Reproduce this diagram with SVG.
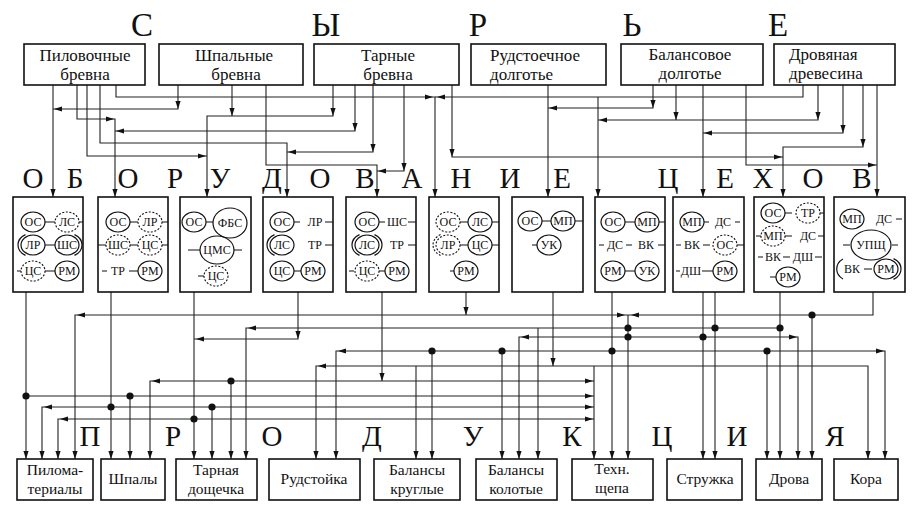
<svg xmlns="http://www.w3.org/2000/svg" width="917" height="510" viewBox="0 0 917 510">
<style>
.b{fill:#fff;stroke:#111;stroke-width:1.6}
.c path{fill:none;stroke:#222;stroke-width:1.1}
text{font-family:"Liberation Serif","DejaVu Serif",serif;fill:#111}
.big{font-size:33px;text-anchor:middle}
.mid{font-size:29px;text-anchor:middle}
.t{font-size:17px}
.p{font-size:15.5px;text-anchor:middle}
.e{font-size:12px;text-anchor:middle}
.s{fill:none;stroke:#111;stroke-width:1.2}
.d{fill:none;stroke:#111;stroke-width:1.1;stroke-dasharray:2 1.6}
.l{fill:none;stroke:#111;stroke-width:1.1}
.dot{fill:#111}
</style>
<defs><path id="a" d="M0 0L-8 -2.6L-8 2.6Z" fill="#111"/></defs>
<rect width="917" height="510" fill="#fff"/>

<text class="big" x="142 326 478 632 778" y="36">СЫРЬЕ</text>
<text class="mid" x="33 75 128 175 220 272 320 365 412 461 510 562" y="188">ОБОРУДОВАНИЕ</text>
<text class="mid" x="668 725 763 813 862" y="188">ЦЕХОВ</text>
<text class="mid" x="90 173 272 372 473 572 662 737 835" y="446">ПРОДУКЦИЯ</text>

<g id="connectors" class="c">
<path d="M53 85V197"/>
<path d="M178 85V109H53"/>
<path d="M77 85V119H115V197"/>
<path d="M355 85V131H115"/>
<path d="M87 85V156H207"/>
<path d="M333 85V116H207V197"/>
<path d="M232 85V116"/>
<path d="M100 85V143H287V197"/>
<path d="M373 85V152H287"/>
<path d="M266 85V165H377V197"/>
<path d="M404 85V171H377"/>
<path d="M116 85V97H435V197"/>
<path d="M803 85V97H435"/>
<path d="M452 85V157H783"/>
<path d="M863 85V147H783V197"/>
<path d="M548 85V197"/>
<path d="M653 85V108H548"/>
<path d="M598 97V197"/>
<path d="M818 85V120H598"/>
<path d="M676 85V120"/>
<path d="M703 85V197"/>
<path d="M843 85V133H703"/>
<path d="M746 85V165H877"/>
<path d="M877 85V197"/>

<path d="M26 292V459"/>
<path d="M26 396H594"/>
<path d="M111 292V459"/>
<path d="M594 407H42V459"/>
<path d="M194 292V459"/>
<path d="M594 419H58V459"/>
<path d="M298 292V339H194"/>
<path d="M382 292V381"/>
<path d="M594 381H150V459"/>
<path d="M231 381V459"/>
<path d="M130 396V459"/>
<path d="M212 407V459"/>
<path d="M466 292V315"/>
<path d="M873 292V315H75V459"/>
<path d="M628 315V459"/>
<path d="M812 315V459"/>
<path d="M780 292V459"/>
<path d="M780 328H246V459"/>
<path d="M538 328V459"/>
<path d="M715 292V459"/>
<path d="M703 292V459"/>
<path d="M519 459V337H798V459"/>
<path d="M612 292V459"/>
<path d="M336 459V351H885V459"/>
<path d="M432 351V459"/>
<path d="M502 351V459"/>
<path d="M767 351V459"/>
<path d="M553 292V366"/>
<path d="M316 459V366H868V459"/>
<path d="M416 366V459"/>
<path d="M594 366V459"/>

<g class="dot">
<circle cx="26" cy="396" r="3.6"/><circle cx="130" cy="396" r="3.6"/>
<circle cx="111" cy="407" r="3.6"/><circle cx="212" cy="407" r="3.6"/>
<circle cx="194" cy="419" r="3.6"/><circle cx="231" cy="381" r="3.6"/>
<circle cx="432" cy="351" r="3.6"/><circle cx="502" cy="351" r="3.6"/>
<circle cx="612" cy="351" r="3.6"/><circle cx="767" cy="351" r="3.6"/>
<circle cx="628" cy="328" r="3.6"/><circle cx="715" cy="328" r="3.6"/>
<circle cx="780" cy="328" r="3.6"/><circle cx="628" cy="337" r="3.6"/>
<circle cx="703" cy="337" r="3.6"/><circle cx="812" cy="315" r="3.6"/>
</g>

<use href="#a" transform="translate(53 197) rotate(90)"/>
<use href="#a" transform="translate(115 197) rotate(90)"/>
<use href="#a" transform="translate(207 197) rotate(90)"/>
<use href="#a" transform="translate(287 197) rotate(90)"/>
<use href="#a" transform="translate(377 197) rotate(90)"/>
<use href="#a" transform="translate(435 197) rotate(90)"/>
<use href="#a" transform="translate(548 197) rotate(90)"/>
<use href="#a" transform="translate(598 197) rotate(90)"/>
<use href="#a" transform="translate(703 197) rotate(90)"/>
<use href="#a" transform="translate(783 197) rotate(90)"/>
<use href="#a" transform="translate(877 197) rotate(90)"/>
<use href="#a" transform="translate(178 109) rotate(90)"/>
<use href="#a" transform="translate(355 131) rotate(90)"/>
<use href="#a" transform="translate(333 116) rotate(90)"/>
<use href="#a" transform="translate(232 116) rotate(90)"/>
<use href="#a" transform="translate(373 152) rotate(90)"/>
<use href="#a" transform="translate(404 171) rotate(90)"/>
<use href="#a" transform="translate(452 157) rotate(90)"/>
<use href="#a" transform="translate(863 147) rotate(90)"/>
<use href="#a" transform="translate(653 108) rotate(90)"/>
<use href="#a" transform="translate(818 120) rotate(90)"/>
<use href="#a" transform="translate(676 120) rotate(90)"/>
<use href="#a" transform="translate(843 133) rotate(90)"/>
<use href="#a" transform="translate(54 109) rotate(180)"/>
<use href="#a" transform="translate(116 131) rotate(180)"/>
<use href="#a" transform="translate(288 152) rotate(180)"/>
<use href="#a" transform="translate(378 171) rotate(180)"/>
<use href="#a" transform="translate(549 108) rotate(180)"/>
<use href="#a" transform="translate(599 120) rotate(180)"/>
<use href="#a" transform="translate(704 133) rotate(180)"/>
<use href="#a" transform="translate(437 97) rotate(180)"/>
<use href="#a" transform="translate(114 119)"/>
<use href="#a" transform="translate(206 156)"/>
<use href="#a" transform="translate(433 97)"/>
<use href="#a" transform="translate(782 157)"/>
<use href="#a" transform="translate(876 165)"/>

<use href="#a" transform="translate(26 459) rotate(90)"/>
<use href="#a" transform="translate(42 459) rotate(90)"/>
<use href="#a" transform="translate(58 459) rotate(90)"/>
<use href="#a" transform="translate(75 459) rotate(90)"/>
<use href="#a" transform="translate(111 459) rotate(90)"/>
<use href="#a" transform="translate(130 459) rotate(90)"/>
<use href="#a" transform="translate(150 459) rotate(90)"/>
<use href="#a" transform="translate(194 459) rotate(90)"/>
<use href="#a" transform="translate(212 459) rotate(90)"/>
<use href="#a" transform="translate(231 459) rotate(90)"/>
<use href="#a" transform="translate(246 459) rotate(90)"/>
<use href="#a" transform="translate(316 459) rotate(90)"/>
<use href="#a" transform="translate(336 459) rotate(90)"/>
<use href="#a" transform="translate(416 459) rotate(90)"/>
<use href="#a" transform="translate(432 459) rotate(90)"/>
<use href="#a" transform="translate(502 459) rotate(90)"/>
<use href="#a" transform="translate(519 459) rotate(90)"/>
<use href="#a" transform="translate(538 459) rotate(90)"/>
<use href="#a" transform="translate(594 459) rotate(90)"/>
<use href="#a" transform="translate(612 459) rotate(90)"/>
<use href="#a" transform="translate(628 459) rotate(90)"/>
<use href="#a" transform="translate(703 459) rotate(90)"/>
<use href="#a" transform="translate(715 459) rotate(90)"/>
<use href="#a" transform="translate(767 459) rotate(90)"/>
<use href="#a" transform="translate(780 459) rotate(90)"/>
<use href="#a" transform="translate(798 459) rotate(90)"/>
<use href="#a" transform="translate(812 459) rotate(90)"/>
<use href="#a" transform="translate(868 459) rotate(90)"/>
<use href="#a" transform="translate(885 459) rotate(90)"/>
<use href="#a" transform="translate(382 381) rotate(90)"/>
<use href="#a" transform="translate(298 339) rotate(90)"/>
<use href="#a" transform="translate(466 315) rotate(90)"/>
<use href="#a" transform="translate(553 366) rotate(90)"/>
<use href="#a" transform="translate(44 407) rotate(180)"/>
<use href="#a" transform="translate(60 419) rotate(180)"/>
<use href="#a" transform="translate(152 381) rotate(180)"/>
<use href="#a" transform="translate(196 339) rotate(180)"/>
<use href="#a" transform="translate(77 315) rotate(180)"/>
<use href="#a" transform="translate(248 328) rotate(180)"/>
<use href="#a" transform="translate(521 337) rotate(180)"/>
<use href="#a" transform="translate(338 351) rotate(180)"/>
<use href="#a" transform="translate(318 366) rotate(180)"/>
<use href="#a" transform="translate(631 315) rotate(180)"/>
<use href="#a" transform="translate(625 315)"/>
<use href="#a" transform="translate(593 381)"/>
<use href="#a" transform="translate(593 396)"/>
<use href="#a" transform="translate(593 407)"/>
<use href="#a" transform="translate(593 419)"/>
<use href="#a" transform="translate(797 337)"/>
<use href="#a" transform="translate(884 351)"/>
</g>

<g id="raw1"><rect class="b" x="24" y="44" width="121" height="41"/><text class="t" x="85" y="61" text-anchor="middle">Пиловочные</text><text class="t" x="85" y="80" text-anchor="middle">бревна</text></g>
<g id="raw2"><rect class="b" x="159" y="44" width="144" height="41"/><text class="t" x="234" y="61" text-anchor="middle">Шпальные</text><text class="t" x="236" y="80" text-anchor="middle">бревна</text></g>
<g id="raw3"><rect class="b" x="314" y="44" width="145" height="41"/><text class="t" x="388" y="61" text-anchor="middle">Тарные</text><text class="t" x="388" y="80" text-anchor="middle">бревна</text></g>
<g id="raw4"><rect class="b" x="471" y="44" width="135" height="41"/><text class="t" x="490" y="61">Рудстоечное</text><text class="t" x="490" y="80">долготье</text></g>
<g id="raw5"><rect class="b" x="621" y="44" width="142" height="41"/><text class="t" x="690" y="60" text-anchor="middle">Балансовое</text><text class="t" x="690" y="79" text-anchor="middle">долготье</text></g>
<g id="raw6"><rect class="b" x="774" y="44" width="121" height="41"/><text class="t" x="789" y="60">Дровяная</text><text class="t" x="789" y="79">древесина</text></g>

<g id="eq1" transform="translate(13 197)"><rect class="b" width="70" height="95"/>
<ellipse class="s" cx="20" cy="25" rx="12" ry="10"/><text class="e" x="20" y="29">ОС</text>
<path class="l" d="M32 25H42M66 25H70M32 48H42M4 74H8M32 74H42"/>
<ellipse class="d" cx="54" cy="25" rx="12" ry="10"/><text class="e" x="54" y="29">ЛС</text>
<ellipse class="s" cx="20" cy="48" rx="12" ry="10"/><path class="s" d="M12.5 37.6A15 12 0 0 0 12.5 58.4"/><text class="e" x="20" y="52">ЛР</text>
<ellipse class="s" cx="54" cy="48" rx="12" ry="10"/><path class="s" d="M61.5 37.6A15 12 0 0 1 61.5 58.4"/><text class="e" x="54" y="52">ШС</text>
<ellipse class="d" cx="20" cy="74" rx="12" ry="10"/><text class="e" x="20" y="78">ЦС</text>
<ellipse class="s" cx="54" cy="74" rx="12" ry="10"/><text class="e" x="54" y="78">РМ</text>
</g>
<g id="eq2" transform="translate(98 197)"><rect class="b" width="70" height="95"/>
<path class="l" d="M32 25H40M64 25H70M0 48H8M32 48H40M64 48H70M4 74H9M31 74H40"/>
<ellipse class="s" cx="20" cy="25" rx="12" ry="10"/><text class="e" x="20" y="29">ОС</text>
<ellipse class="d" cx="52" cy="25" rx="12" ry="10"/><text class="e" x="52" y="29">ЛР</text>
<ellipse class="d" cx="20" cy="48" rx="12" ry="10"/><text class="e" x="20" y="52">ШС</text>
<ellipse class="d" cx="52" cy="48" rx="12" ry="10"/><text class="e" x="52" y="52">ЦС</text>
<text class="e" x="20" y="78">ТР</text>
<ellipse class="s" cx="52" cy="74" rx="12" ry="10"/><text class="e" x="52" y="78">РМ</text>
</g>
<g id="eq3" transform="translate(180 197)"><rect class="b" width="71" height="95"/>
<path class="l" d="M26 25H33M8 53H20M54 53H62M18 79H24"/>
<ellipse class="s" cx="14" cy="25" rx="12" ry="10"/><text class="e" x="14" y="29">ОС</text>
<ellipse class="s" cx="50" cy="26" rx="17" ry="15"/><text class="e" x="50" y="30">ФБС</text>
<ellipse class="s" cx="37" cy="53" rx="17" ry="14"/><text class="e" x="37" y="57">ЦМС</text>
<ellipse class="d" cx="36" cy="79" rx="12" ry="10"/><text class="e" x="36" y="83">ЦС</text>
</g>
<g id="eq4" transform="translate(263 197)"><rect class="b" width="70" height="95"/>
<path class="l" d="M31 25H37M62 25H70M62 48H70M31 74H38"/>
<ellipse class="s" cx="19" cy="25" rx="12" ry="10"/><text class="e" x="19" y="29">ОС</text>
<text class="e" x="52" y="29">ЛР</text>
<ellipse class="s" cx="19" cy="48" rx="12" ry="10"/><path class="s" d="M11.5 37.6A15 12 0 0 0 11.5 58.4"/><text class="e" x="19" y="52">ЛС</text>
<text class="e" x="52" y="52">ТР</text>
<ellipse class="s" cx="19" cy="74" rx="12" ry="10"/><text class="e" x="19" y="78">ЦС</text>
<ellipse class="s" cx="50" cy="74" rx="12" ry="10"/><text class="e" x="50" y="78">РМ</text>
</g>
<g id="eq5" transform="translate(346 197)"><rect class="b" width="70" height="95"/>
<path class="l" d="M33 25H39M62 25H70M62 48H70M3 74H8M33 74H39"/>
<ellipse class="s" cx="21" cy="25" rx="12" ry="10"/><text class="e" x="21" y="29">ОС</text>
<text class="e" x="51" y="29">ШС</text>
<ellipse class="s" cx="21" cy="48" rx="12" ry="10"/><path class="s" d="M13.5 37.6A15 12 0 0 0 13.5 58.4M28.5 37.6A15 12 0 0 1 28.5 58.4"/><text class="e" x="21" y="52">ЛС</text>
<text class="e" x="51" y="52">ТР</text>
<ellipse class="d" cx="21" cy="74" rx="12" ry="10"/><text class="e" x="21" y="78">ЦС</text>
<ellipse class="s" cx="51" cy="74" rx="12" ry="10"/><text class="e" x="51" y="78">РМ</text>
</g>
<g id="eq6" transform="translate(429 197)"><rect class="b" width="70" height="95"/>
<path class="l" d="M31 25H39M63 25H70M31 48H39M63 48H70M21 74H25"/>
<ellipse class="d" cx="19" cy="25" rx="12" ry="10"/><text class="e" x="19" y="29">ОС</text>
<ellipse class="s" cx="51" cy="25" rx="12" ry="10"/><text class="e" x="51" y="29">ЛС</text>
<ellipse class="d" cx="19" cy="48" rx="12" ry="10"/><path class="d" d="M11.5 37.6A15 12 0 0 0 11.5 58.4"/><text class="e" x="19" y="52">ЛР</text>
<ellipse class="s" cx="51" cy="48" rx="12" ry="10"/><text class="e" x="51" y="52">ЦС</text>
<ellipse class="s" cx="37" cy="74" rx="12" ry="10"/><text class="e" x="37" y="78">РМ</text>
</g>
<g id="eq7" transform="translate(512 197)"><rect class="b" width="71" height="95"/>
<path class="l" d="M30 24H39M63 24H71M20 48H25"/>
<ellipse class="s" cx="18" cy="24" rx="12" ry="10"/><text class="e" x="18" y="28">ОС</text>
<ellipse class="s" cx="51" cy="24" rx="12" ry="10"/><text class="e" x="51" y="28">МП</text>
<ellipse class="s" cx="37" cy="48" rx="12" ry="10"/><text class="e" x="37" y="52">УК</text>
</g>
<g id="eq8" transform="translate(595 197)"><rect class="b" width="70" height="95"/>
<path class="l" d="M30 25H40M64 25H70M4 48H9M31 48H37M63 48H70M30 74H40"/>
<ellipse class="s" cx="18" cy="25" rx="12" ry="10"/><text class="e" x="18" y="29">ОС</text>
<ellipse class="s" cx="52" cy="25" rx="12" ry="10"/><text class="e" x="52" y="29">МП</text>
<text class="e" x="20" y="52">ДС</text><text class="e" x="51" y="52">ВК</text>
<ellipse class="s" cx="18" cy="74" rx="12" ry="10"/><text class="e" x="18" y="78">РМ</text>
<ellipse class="s" cx="52" cy="74" rx="12" ry="10"/><text class="e" x="52" y="78">УК</text>
</g>
<g id="eq9" transform="translate(673 197)"><rect class="b" width="71" height="95"/>
<path class="l" d="M31 25H36M62 25H67M3 48H8M30 48H37M64 48H71M3 74H7M29 74H40"/>
<ellipse class="s" cx="19" cy="25" rx="12" ry="10"/><text class="e" x="19" y="29">МП</text>
<text class="e" x="50" y="29">ДС</text>
<text class="e" x="19" y="52">ВК</text>
<ellipse class="d" cx="52" cy="48" rx="12" ry="10"/><text class="e" x="52" y="52">ОС</text>
<text class="e" x="18" y="78">ДШ</text>
<ellipse class="s" cx="52" cy="74" rx="12" ry="10"/><text class="e" x="52" y="78">РМ</text>
</g>
<g id="eq10" transform="translate(754 197)"><rect class="b" width="70" height="95"/>
<path class="l" d="M31 16H38M66 16H70M2 39H7M31 39H38M64 39H70M4 60H9M29 60H36M61 60H68M16 80H22"/>
<ellipse class="s" cx="19" cy="16" rx="12" ry="10"/><text class="e" x="19" y="20">ОС</text>
<ellipse class="d" cx="54" cy="16" rx="12" ry="10"/><text class="e" x="54" y="20">ТР</text>
<ellipse class="d" cx="19" cy="39" rx="12" ry="10"/><text class="e" x="19" y="43">МП</text>
<text class="e" x="54" y="43">ДС</text>
<text class="e" x="19" y="64">ВК</text><text class="e" x="49" y="64">ДШ</text>
<ellipse class="s" cx="34" cy="80" rx="12" ry="10"/><text class="e" x="34" y="84">РМ</text>
</g>
<g id="eq11" transform="translate(834 197)"><rect class="b" width="71" height="95"/>
<path class="l" d="M62 22H68M9 48H16M58 48H64M30 72H38"/>
<ellipse class="s" cx="18" cy="22" rx="12" ry="10"/><text class="e" x="18" y="26">МП</text>
<text class="e" x="50" y="26">ДС</text>
<ellipse class="s" cx="37" cy="48" rx="20" ry="15"/><text class="e" x="37" y="52">УПЩ</text>
<path class="s" d="M9 62A14 12 0 0 0 9 82M59.5 61.6A15 12 0 0 1 59.5 82.4"/>
<text class="e" x="18" y="76">ВК</text>
<ellipse class="s" cx="52" cy="72" rx="12" ry="10"/><text class="e" x="52" y="76">РМ</text>
</g>

<g id="pr1"><rect class="b" x="17" y="459" width="76" height="41"/><text class="p" x="55" y="475">Пилома-</text><text class="p" x="55" y="494">териалы</text></g>
<g id="pr2"><rect class="b" x="101" y="459" width="64" height="41"/><text class="p" x="133" y="484">Шпалы</text></g>
<g id="pr3"><rect class="b" x="176" y="459" width="81" height="41"/><text class="p" x="216" y="475">Тарная</text><text class="p" x="216" y="494">дощечка</text></g>
<g id="pr4"><rect class="b" x="269" y="459" width="91" height="41"/><text class="p" x="314" y="484">Рудстойка</text></g>
<g id="pr5"><rect class="b" x="374" y="459" width="86" height="41"/><text class="p" x="417" y="475">Балансы</text><text class="p" x="417" y="494">круглые</text></g>
<g id="pr6"><rect class="b" x="476" y="459" width="81" height="41"/><text class="p" x="516" y="475">Балансы</text><text class="p" x="516" y="494">колотые</text></g>
<g id="pr7"><rect class="b" x="572" y="459" width="81" height="41"/><text class="p" x="612" y="474">Техн.</text><text class="p" x="612" y="493">щепа</text></g>
<g id="pr8"><rect class="b" x="667" y="459" width="75" height="41"/><text class="p" x="705" y="484">Стружка</text></g>
<g id="pr9"><rect class="b" x="756" y="459" width="66" height="41"/><text class="p" x="789" y="484">Дрова</text></g>
<g id="pr10"><rect class="b" x="834" y="459" width="64" height="41"/><text class="p" x="866" y="484">Кора</text></g>
</svg>
